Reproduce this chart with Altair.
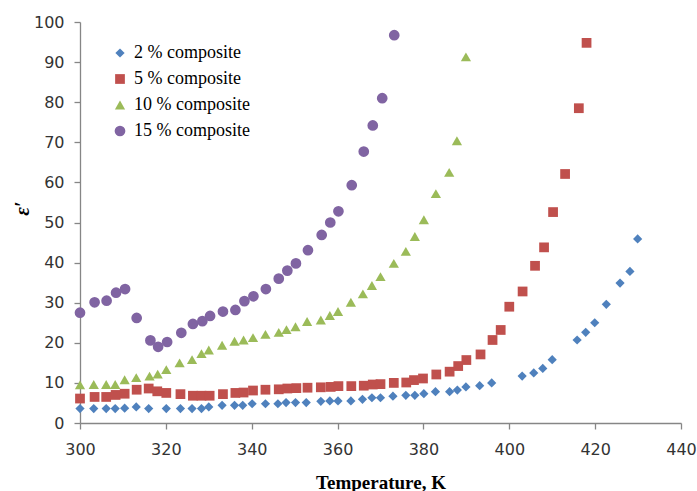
import altair as alt
import pandas as pd

series_names = ["2 % composite", "5 % composite", "10 % composite", "15 % composite"]
series_colors = ["#4F81BD", "#C0504D", "#9BBB59", "#8064A2"]
series_shapes = ["diamond", "square", "triangle-up", "circle"]
series_sizes = [85, 115, 95, 125]

t2 = [300, 303.2, 306.1, 308.2, 310.4, 313.1, 316.0, 320.1, 323.4, 326.1, 328.3, 330.0, 333.1, 336.0,
      337.9, 340.1, 343.2, 346.1, 348.0, 350.2, 352.7, 356.1, 358.2, 360.1, 363.1, 365.8, 368.0, 370.0,
      372.9, 375.9, 378.0, 380.1, 382.8, 386.1, 387.9, 389.9, 393.1, 395.9, 403.0, 405.7, 407.8, 410.0,
      415.8, 417.8, 419.9, 422.6, 425.8, 428.1, 429.9]
v2 = [3.6, 3.6, 3.6, 3.6, 3.7, 4.0, 3.6, 3.6, 3.6, 3.6, 3.6, 4.0, 4.4, 4.4,
      4.4, 4.8, 4.8, 4.8, 5.1, 5.1, 5.1, 5.4, 5.5, 5.5, 5.5, 5.9, 6.3, 6.3,
      6.7, 6.9, 6.9, 7.3, 7.8, 7.8, 8.2, 9.0, 9.3, 10.0, 11.7, 12.5, 13.6, 15.8,
      20.7, 22.6, 25.0, 29.6, 34.9, 37.8, 45.9]

t5 = [300, 303.4, 306.1, 308.3, 310.4, 313.2, 316.0, 318.0, 320.1, 323.4, 326.3, 328.3, 330.2, 333.3,
      336.2, 338.1, 340.3, 343.2, 346.3, 348.3, 350.4, 353.0, 356.1, 358.4, 360.2, 363.2, 366.1, 368.2,
      370.0, 373.1, 376.0, 377.8, 379.9, 383.0, 386.1, 388.1, 390.0, 393.3, 396.1, 398.0, 400.0, 403.1,
      406.0, 408.1, 410.2, 413.0, 416.2, 418.0]
v5 = [6.1, 6.5, 6.5, 7.0, 7.3, 8.3, 8.6, 7.9, 7.5, 7.2, 6.8, 6.8, 6.8, 7.2,
      7.5, 7.6, 8.1, 8.3, 8.4, 8.6, 8.7, 8.8, 8.9, 9.0, 9.2, 9.2, 9.3, 9.6,
      9.7, 10.0, 10.1, 10.7, 11.1, 12.1, 12.8, 14.2, 15.7, 17.1, 20.7, 23.2, 29.0, 32.8,
      39.2, 43.8, 52.6, 62.1, 78.5, 94.8]

t10 = [300, 303.2, 306.1, 308.2, 310.4, 313.1, 316.2, 318.1, 320.1, 323.2, 326.1, 328.3, 330.0, 333.1,
       336.0, 338.1, 340.3, 343.2, 346.3, 348.1, 350.2, 352.9, 356.1, 358.2, 360.1, 363.1, 365.9, 368.0,
       370.0, 373.1, 375.9, 378.0, 380.1, 382.9, 386.0, 387.8, 389.9]
v10 = [9.5, 9.6, 9.6, 9.6, 10.8, 11.3, 11.7, 12.2, 13.3, 15.0, 15.8, 17.3, 18.2, 19.4,
       20.4, 20.7, 21.3, 22.1, 22.6, 23.3, 24.0, 25.3, 25.7, 26.8, 27.8, 30.1, 32.2, 34.3,
       36.5, 39.8, 42.8, 46.5, 50.7, 57.2, 62.5, 70.4, 91.3]

t15 = [300, 303.4, 306.2, 308.4, 310.5, 313.2, 316.4, 318.2, 320.3, 323.6, 326.3, 328.5, 330.3, 333.3,
       336.2, 338.3, 340.4, 343.3, 346.3, 348.3, 350.3, 353.1, 356.3, 358.3, 360.2, 363.3, 366.1, 368.2,
       370.4, 373.2]
v15 = [27.5, 30.1, 30.5, 32.5, 33.4, 26.2, 20.6, 19.0, 20.2, 22.5, 24.7, 25.4, 26.7, 27.8,
       28.2, 30.4, 31.6, 33.4, 36.0, 38.0, 39.8, 43.1, 46.9, 50.0, 52.8, 59.3, 67.7, 74.2,
       81.0, 96.7]

x_ticks = [300, 320, 340, 360, 380, 400, 420, 440]
y_ticks = [0, 10, 20, 30, 40, 50, 60, 70, 80, 90, 100]

rows = []
for name, ts, vs in zip(series_names, [t2, t5, t10, t15], [v2, v5, v10, v15]):
    for t, v in zip(ts, vs):
        rows.append({"T": t, "eps": v, "series": name})
df = pd.DataFrame(rows)

chart = alt.Chart(df).mark_point(filled=True, opacity=1, strokeWidth=0).encode(
    x=alt.X("T:Q", scale=alt.Scale(domain=[300, 440], nice=False, zero=False),
            axis=alt.Axis(values=x_ticks, title="Temperature, K", grid=False, labelFlush=False,
                          titleFont="Liberation Serif", titleFontSize=19, titleFontWeight="bold",
                          titleColor="#000000", titleBaseline="alphabetic", titleY=65)),
    y=alt.Y("eps:Q", scale=alt.Scale(domain=[0, 100], nice=False),
            axis=alt.Axis(values=y_ticks, title="ε′", grid=False, labelFlush=False,
                          titleFont="Liberation Serif", titleFontSize=21, titleFontWeight="bold",
                          titleFontStyle="italic", titleColor="#000000",
                          titleAngle=270, titleX=-58, titleY=186, titleBaseline="middle",
                          titleAlign="center")),
    color=alt.Color("series:N", sort=series_names,
                    scale=alt.Scale(domain=series_names, range=series_colors),
                    legend=alt.Legend(title=None, orient="none", legendX=31, legendY=22,
                                      labelFont="Liberation Serif", labelFontSize=18,
                                      labelColor="#000000", labelOffset=5, rowPadding=8,
                                      padding=0, symbolStrokeWidth=0)),
    shape=alt.Shape("series:N", sort=series_names,
                    scale=alt.Scale(domain=series_names, range=series_shapes)),
    size=alt.Size("series:N", sort=series_names,
                  scale=alt.Scale(domain=series_names, range=series_sizes)),
).properties(
    width=601, height=401,
    padding={"left": 80, "top": 22, "right": 16, "bottom": 68},
    autosize=alt.AutoSizeParams(type="none"),
).configure_view(
    stroke=None
).configure_axis(
    domainColor="#868686", tickColor="#868686", tickSize=6, domainWidth=1.3, tickWidth=1.3,
    labelFont="DejaVu Sans", labelFontSize=16, labelColor="#333333", labelPadding=10
).configure_axisX(
    labelPadding=12
)

chart.save("out.html", embed_options={"renderer": "svg", "actions": False})
